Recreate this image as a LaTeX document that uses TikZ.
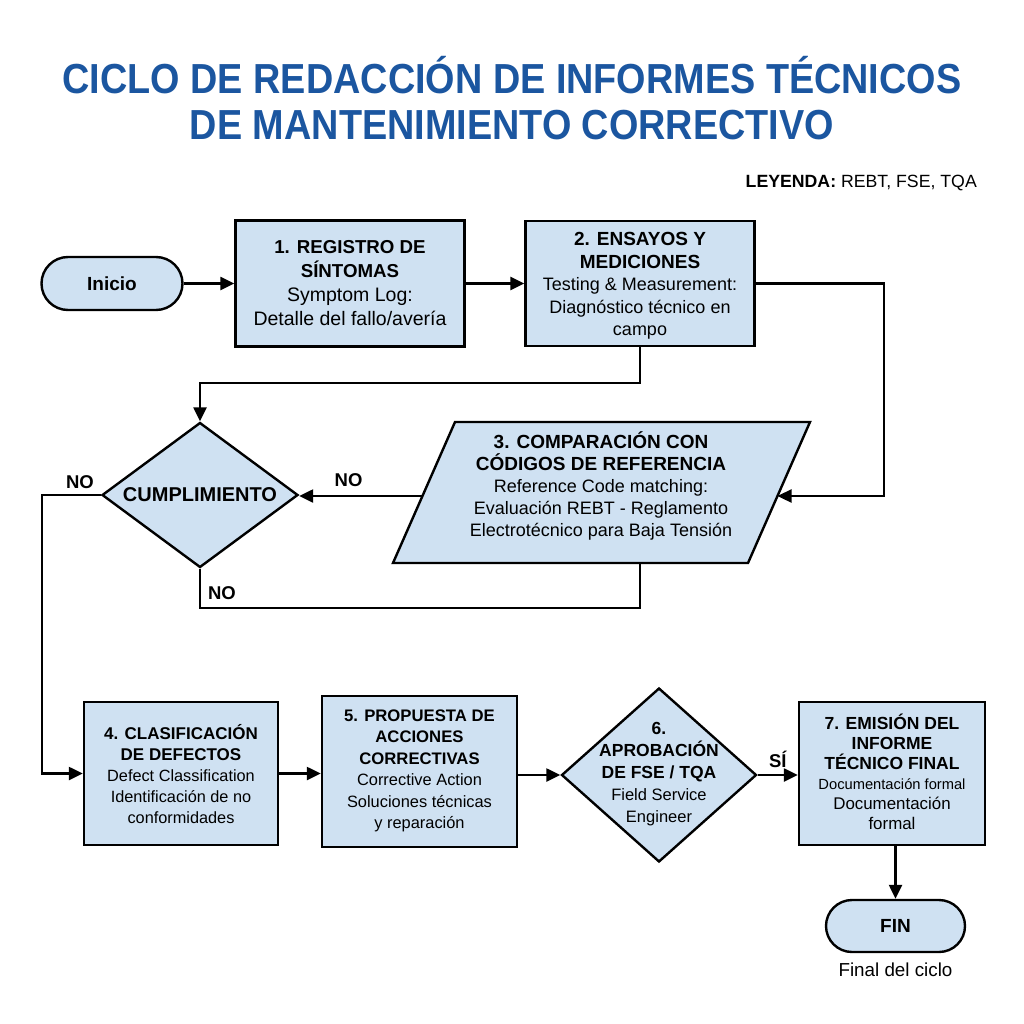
\documentclass[tikz,border=0pt]{standalone}
\usepackage{fontspec}
\setmainfont{Liberation Sans}
\newfontfamily\titlefont{Liberation Sans}[FakeStretch=0.9]
\usetikzlibrary{shapes.geometric,shapes.misc,arrows.meta}
\definecolor{titleblue}{HTML}{1B56A0}
\definecolor{boxfill}{HTML}{CFE1F2}
\newcommand{\hb}[2]{{\fontsize{#1}{#1}\selectfont\bfseries #2}}
\newcommand{\fs}[2]{\fontsize{#1}{#2}\selectfont}
\tikzset{
  x=1pt,y=-1pt,
  line/.style={line width=2.4pt,draw=black},
  arr/.style={line, -{Triangle[length=14pt,width=13pt]}},
  procbox/.style={line, fill=boxfill, rectangle, inner sep=0pt},
  term/.style={line, fill=boxfill, rounded rectangle, inner sep=0pt},
  dia/.style={line, fill=boxfill, diamond, inner sep=0pt},
  txt/.style={align=center, inner sep=0pt},
  lab/.style={font=\fontsize{18.5}{22}\selectfont\bfseries, inner sep=0pt}
}
\begin{document}
\begin{tikzpicture}
\useasboundingbox[fill=white] (0,0) rectangle (1024,1024);
% title
\node[text=titleblue, font=\titlefont\fontsize{42}{46}\selectfont\bfseries, align=center, inner sep=0pt] (title) at (512,98)
  {CICLO DE REDACCIÓN DE INFORMES TÉCNICOS\\DE MANTENIMIENTO CORRECTIVO};
\node[anchor=east, inner sep=0pt, font=\fs{17.7}{22}] (legend) at (977,183)
  {\textbf{LEYENDA:} REBT, FSE, TQA};

% nodes
\node[term, minimum width=141, minimum height=53] (inicio) at (112,283.5) {};
\node[lab, font=\fs{19}{22}\bfseries] at (inicio) {Inicio};

\node[procbox, minimum width=229, minimum height=126] (b1) at (350,283.5) {};
\node[txt, font=\fs{19.5}{24}] at (b1) {\hb{18.7}{1. REGISTRO DE}\\\hb{18.7}{SÍNTOMAS}\\Symptom Log:\\Detalle del fallo/avería};

\node[procbox, minimum width=229, minimum height=125] (b2) at (640,283.5) {};
\node[txt, font=\fs{18}{22.5}] at (640,286) {\hb{19}{2. ENSAYOS Y}\\\hb{19}{MEDICIONES}\\Testing \& Measurement:\\Diagnóstico técnico en\\campo};

% parallelogram
\draw[line, fill=boxfill] (455,422) -- (810,422) -- (748,563) -- (393,563) -- cycle;
\coordinate (p3l) at (422.5,496);
\coordinate (p3r) at (777.5,496);
\coordinate (p3b) at (640,563);
\node[txt, font=\fs{18}{22}] (b3) at (601,486) {\hb{19}{3. COMPARACIÓN CON}\\\hb{19}{CÓDIGOS DE REFERENCIA}\\Reference Code matching:\\Evaluación REBT - Reglamento\\Electrotécnico para Baja Tensión};

\node[dia, minimum width=196, minimum height=145] (cump) at (200,495) {};
\node[lab, font=\fs{20}{22}\bfseries] at (cump) {CUMPLIMIENTO};

\node[procbox, minimum width=194, minimum height=143] (b4) at (181,773.5) {};
\node[txt, font=\fs{16.3}{21}] at (181,774) {\hb{17}{4. CLASIFICACIÓN}\\\hb{17}{DE DEFECTOS}\\Defect Classification\\Identificación de no\\conformidades};

\node[procbox, minimum width=195, minimum height=151] (b5) at (419.5,771.5) {};
\node[txt, font=\fs{16.4}{21.5}] at (419.5,771) {\hb{16.7}{5. PROPUESTA DE}\\\hb{16.7}{ACCIONES}\\\hb{16.7}{CORRECTIVAS}\\Corrective Action\\Soluciones técnicas\\y reparación};

\node[dia, minimum width=195, minimum height=174] (d6) at (659,775) {};
\node[txt, font=\fs{16.5}{22}] at (659,774) {\hb{17.5}{6.}\\\hb{17.5}{APROBACIÓN}\\\hb{17.5}{DE FSE / TQA}\\Field Service\\Engineer};

\node[procbox, minimum width=186, minimum height=143] (b7) at (892,773.5) {};
\node[txt, font=\fs{16.9}{20}] at (892,772) {\hb{17.5}{7. EMISIÓN DEL}\\\hb{17.5}{INFORME}\\\hb{17.5}{TÉCNICO FINAL}\\{\fs{14.7}{16}Documentación formal}\\Documentación\\formal};

\node[term, minimum width=139, minimum height=52] (fin) at (895.5,926) {};
\node[lab, font=\fs{19}{22}\bfseries] at (fin) {FIN};
\node[txt, font=\fs{18.8}{22}] (finlab) at (895.5,970) {Final del ciclo};

% connectors
\draw[arr] (inicio.east) -- (b1.west);
\draw[arr] (b1.east) -- (b2.west |- b1.east);
\draw[arr] (b2.east) -- (884,283.5) -- (884,496) -- (p3r);
\draw[arr] (b2.south) -- (640,383) -- (200,383) -- (cump.north);
\draw[arr] (p3l) -- (p3l -| cump.east) node[lab, pos=0.6, above=8pt] {NO};
\draw[line] (cump.south) -- (200,608) -- (640,608) -- (p3b);
\node[lab] at (222,593) {NO};
\draw[arr] (cump.west) -- (42,495) -- (42,773.5) -- (b4.west);
\node[lab] at (80,482) {NO};
\draw[arr] (b4.east) -- (b5.west |- b4.east);
\draw[arr] (b5.east |- d6.west) -- (d6.west);
\draw[arr] (d6.east) -- (b7.west |- d6.east) node[lab, midway, above=6pt] {SÍ};
\draw[arr] (b7.south -| fin.north) -- (fin.north);
\end{tikzpicture}
\end{document}
